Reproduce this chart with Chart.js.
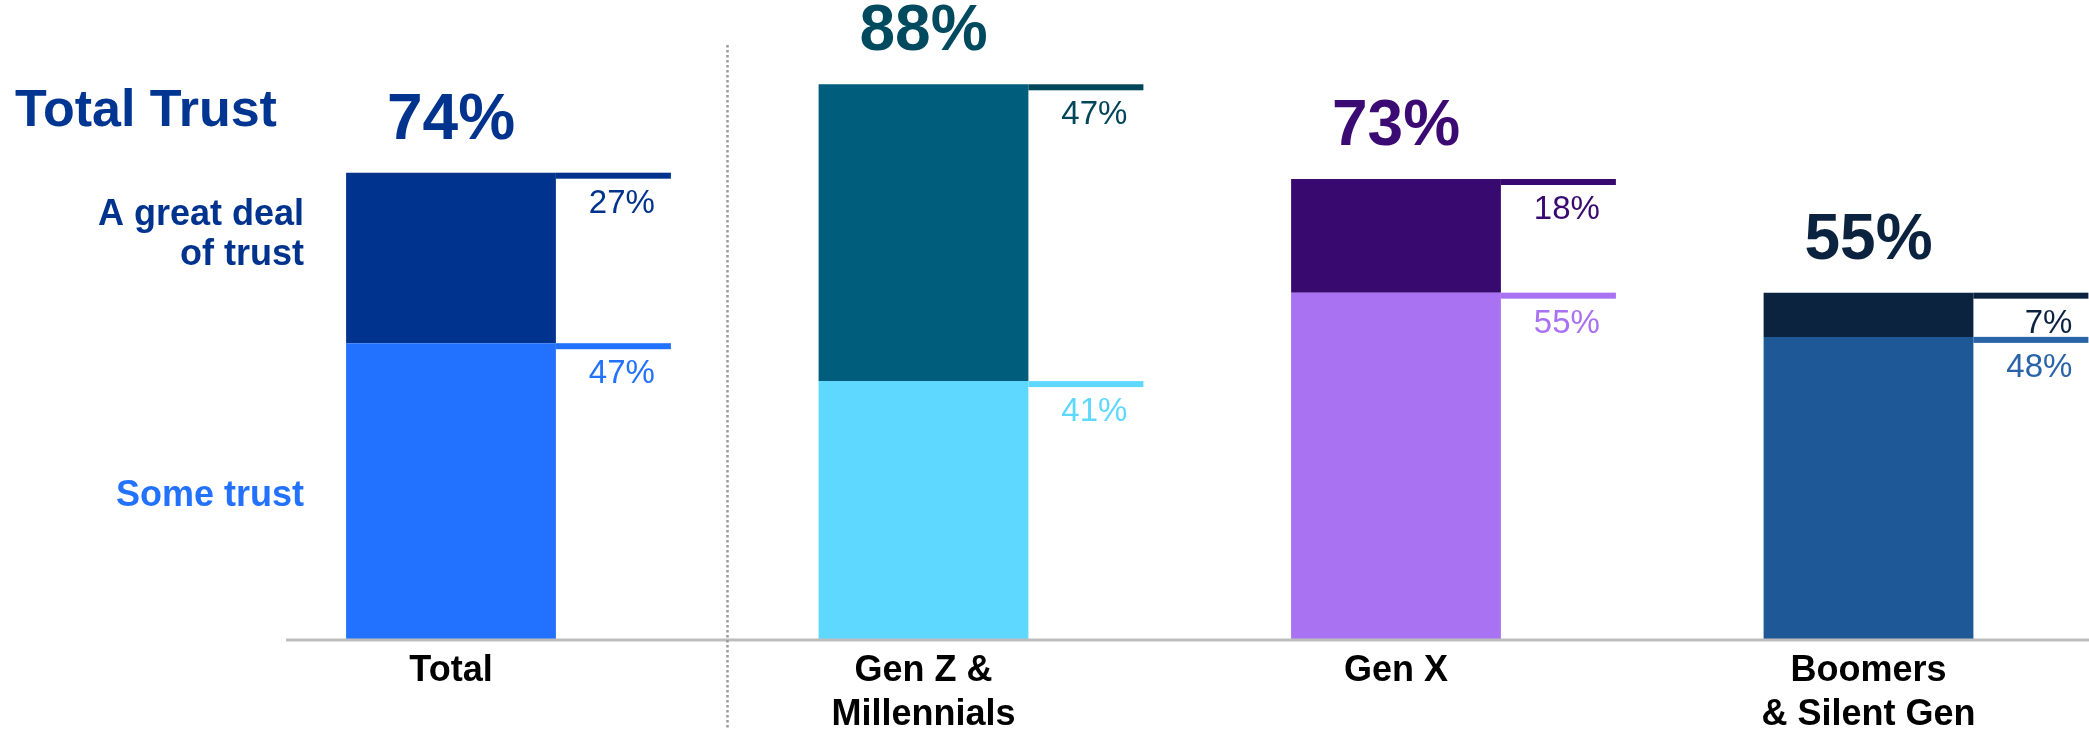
<!DOCTYPE html>
<html>
<head>
<meta charset="utf-8">
<script src="https://cdn.jsdelivr.net/npm/chart.js@4/dist/chart.umd.min.js"></script>
<style>
  html, body { margin: 0; padding: 0; background: #fff; overflow: hidden; }
  #wrap { width: 2089px; height: 730px; overflow: hidden; position: relative; }
  canvas { display: block; }
</style>
</head>
<body>
<div id="wrap"><canvas id="trust-chart" width="2120" height="730"></canvas></div>
<script>
(function () {
  'use strict';

  // ── Data ─────────────────────────────────────────────────────────────
  var categories   = [['Total'], ['Gen Z &', 'Millennials'], ['Gen X'], ['Boomers', '& Silent Gen']];
  var someTrust    = [47, 41, 55, 48];
  var greatDeal    = [27, 47, 18, 7];
  var totalTrust   = [74, 88, 73, 55];

  // ── Colours (one per group) ──────────────────────────────────────────
  var greatBar    = ['#00338d', '#005d7c', '#38096e', '#0c2340'];
  var someBar     = ['#2272ff', '#5fd8ff', '#a872f2', '#1f5896'];
  var greatInk    = ['#00338d', '#00465a', '#38096e', '#0c2340'];
  var someInk     = ['#2272ff', '#5fd8ff', '#a872f2', '#2a64a8'];
  var totalInk    = ['#00338d', '#004a5f', '#3b0a73', '#0c2340'];

  var FONT = '"Liberation Sans", Arial, Helvetica, sans-serif';

  var decor = {
    id: 'decor',
    afterDatasetsDraw: function (chart) {
      var ctx = chart.ctx;
      var x = chart.scales.x, y = chart.scales.y;
      var base = y.getPixelForValue(0);
      var some = chart.getDatasetMeta(0).data;
      var great = chart.getDatasetMeta(1).data;

      ctx.save();

      // baseline
      ctx.strokeStyle = '#bdbdbd';
      ctx.lineWidth = 3;
      ctx.beginPath();
      ctx.moveTo(286, base);
      ctx.lineTo(chart.width, base);
      ctx.stroke();

      // dotted separator between Total and generations
      var sx = Math.round(x.getPixelForValue(0.585)) + 0.5;
      ctx.strokeStyle = '#9a9a9a';
      ctx.lineWidth = 2.5;
      ctx.setLineDash([2.5, 2.5]);
      ctx.beginPath();
      ctx.moveTo(sx, 45);
      ctx.lineTo(sx, 730);
      ctx.stroke();
      ctx.setLineDash([]);

      // segment markers + values
      function marker(bar, txt, color) {
        var right = bar.x + bar.width / 2;
        ctx.fillStyle = color;
        ctx.fillRect(right, bar.y, 115, 6);
        ctx.font = '33px ' + FONT;
        ctx.textAlign = 'right';
        ctx.textBaseline = 'alphabetic';
        ctx.fillText(txt, right + 99, bar.y + 40);
      }
      for (var i = 0; i < categories.length; i++) {
        marker(great[i], greatDeal[i] + '%', greatInk[i]);
        marker(some[i], someTrust[i] + '%', someInk[i]);

        // total on top
        ctx.fillStyle = totalInk[i];
        ctx.font = 'bold 64px ' + FONT;
        ctx.textAlign = 'center';
        ctx.fillText(totalTrust[i] + '%', great[i].x, great[i].y - 34);

        // category labels
        ctx.fillStyle = '#000';
        ctx.font = 'bold 36px ' + FONT;
        categories[i].forEach(function (line, k) {
          ctx.fillText(line, x.getPixelForValue(i), 681 + k * 44);
        });
      }

      // left-hand legend text
      ctx.textAlign = 'left';
      ctx.fillStyle = '#003591';
      ctx.font = 'bold 52px ' + FONT;
      ctx.fillText('Total Trust', 15, 126);

      ctx.textAlign = 'right';
      ctx.font = 'bold 36px ' + FONT;
      ctx.fillStyle = greatBar[0];
      ctx.fillText('A great deal', 304, 225);
      ctx.fillText('of trust', 304, 265);
      ctx.fillStyle = someBar[0];
      ctx.fillText('Some trust', 304, 506);

      ctx.restore();
    }
  };

  new Chart(document.getElementById('trust-chart'), {
    type: 'bar',
    data: {
      labels: categories,
      datasets: [
        { label: 'Some trust', data: someTrust, backgroundColor: someBar, borderWidth: 0 },
        { label: 'A great deal of trust', data: greatDeal, backgroundColor: greatBar, borderWidth: 0 }
      ]
    },
    options: {
      responsive: false,
      devicePixelRatio: 1,
      animation: false,
      layout: { padding: { top: 8.5, bottom: 90, left: 214.75, right: 15.25 } },
      datasets: { bar: { categoryPercentage: 1, barPercentage: 0.444 } },
      plugins: { legend: { display: false }, tooltip: { enabled: false } },
      scales: {
        x: { stacked: true, display: false, grid: { display: false } },
        y: { stacked: true, display: false, min: 0, max: 100, grid: { display: false } }
      }
    },
    plugins: [decor]
  });
})();
</script>
</body>
</html>
